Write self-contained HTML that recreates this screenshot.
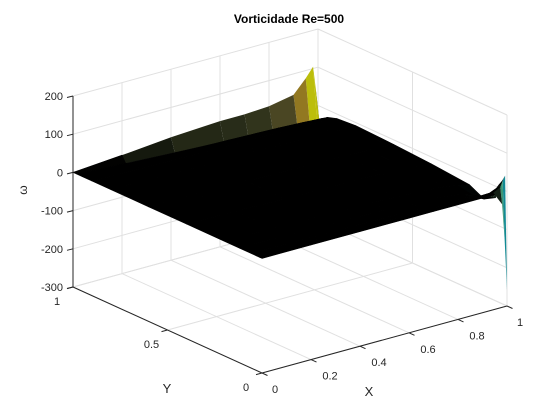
<!DOCTYPE html>
<html><head><meta charset="utf-8"><style>
html,body{margin:0;padding:0;background:#fff;}
svg{display:block;font-family:"Liberation Sans",Arial,sans-serif;}
</style></head><body>
<svg id="chart" width="560" height="420" viewBox="0 0 560 420" xmlns="http://www.w3.org/2000/svg">
<rect x="0" y="0" width="560" height="420" fill="#fff"/>
<g id="grid"></g>
<g id="surf"></g>
<g id="axes"></g>
<text x="289" y="23" text-anchor="middle" font-size="12" font-weight="bold" fill="#000">Vorticidade Re=500</text>
<text x="369" y="396" text-anchor="middle" font-size="13" fill="#262626">X</text>
<text x="167" y="393" text-anchor="middle" font-size="13" fill="#262626">Y</text>
<text x="0" y="0" text-anchor="middle" font-size="12" fill="#262626" transform="translate(27,190) rotate(-90)">ω</text>
</svg>
<script>
const xTicks = [0, 0.2, 0.4, 0.6, 0.8, 1];
const xTickLabels = ["0", "0.2", "0.4", "0.6", "0.8", "1"];
const yTicks = [0, 0.5, 1];
const yTickLabels = ["0", "0.5", "1"];
const zTicks = [-300, -200, -100, 0, 100, 200];
const zTickLabels = ["-300", "-200", "-100", "0", "100", "200"];
const xNodes = [0, 0.2, 0.4, 0.6, 0.7, 0.8, 0.9, 0.95, 0.98, 0.99, 1];
const yNodes = [0, 0.01, 0.03, 0.06, 0.12, 0.2, 0.4, 0.6, 0.8, 0.9, 0.95, 0.98, 1];
const omega = [
 [0,0,0,0,0,0,0,0,-30,-120,-259],
 [0,0,0,0,0,0,0,2,12,28,39],
 [0,0,-1,-1,-2,-3,-4,-3,5,12,18],
 [0,-1,-2,-3,-4,-6,-10,-18,-25,-28,-30],
 [0,-1,-3,-5,-7,-10,-18,-28,-38,-44,-47],
 [0,-2,-4,-6,-8,-11,-15,-20,-23,-25,-27],
 [0,-2,-4,-6,-7,-9,-12,-15,-17,-18,-18],
 [0,-2,-3,-5,-6,-7,-9,-10,-11,-12,-12],
 [0,-2,-3,-4,-5,-6,-7,-8,-8,-8,-8],
 [0,-2,-4,-5,-6,-7,-9,-10,-11,-12,-12],
 [0,-3,-6,-9,-11,-13,-16,-18,-19,-20,-20],
 [0,-7,-14,-20,-24,-27,-31,-32,-33,-34,-34],
 [0,10,22,29,29,33,45,80,105,50,-37]
];
const NS = "http://www.w3.org/2000/svg";
const ZMIN = -300, ZMAX = 200;
function proj(x, y, z) {
  const px = 262 + x * 245 - y * 189;
  const py = 373 - x * 67 - y * 86 - (z - ZMIN) * 0.382;
  return [px, py];
}
function mk(tag, attrs, parent) {
  const e = document.createElementNS(NS, tag);
  for (const k in attrs) e.setAttribute(k, attrs[k]);
  parent.appendChild(e);
  return e;
}
function line(p, q, stroke, w, parent) {
  return mk("line", {x1: p[0], y1: p[1], x2: q[0], y2: q[1], stroke: stroke, "stroke-width": w}, parent);
}
const grid = document.getElementById("grid");
const gc = "#e0e0e0";
xTicks.forEach(x => {
  const l = line(proj(x, 1, ZMIN), proj(x, 1, ZMAX), gc, 1, grid);
  
  
});
zTicks.forEach(z => {
  const l = line(proj(0, 1, z), proj(1, 1, z), gc, 1, grid);
  
  
  const l2 = line(proj(1, 1, z), proj(1, 0, z), gc, 1, grid);
  
  
});
yTicks.forEach(y => {
  const l = line(proj(1, y, ZMIN), proj(1, y, ZMAX), gc, 1, grid);
  
  
  const l2 = line(proj(0, y, ZMIN), proj(1, y, ZMIN), gc, 1, grid);
  
  
});
xTicks.forEach(x => {
  const l = line(proj(x, 0, ZMIN), proj(x, 1, ZMIN), gc, 1, grid);
  
  
});
const stops = [[0,[53,42,135]],[0.15,[3,99,225]],[0.3,[20,133,212]],[0.45,[6,167,198]],[0.6,[56,185,158]],[0.75,[146,191,115]],[0.87,[217,186,86]],[0.95,[252,206,46]],[1,[249,251,14]]];
const CMIN = -259, CMAX = 105;
function parula(v) {
  let t = (v - CMIN) / (CMAX - CMIN);
  t = Math.max(0, Math.min(1, t));
  for (let i = 1; i < stops.length; i++) {
    if (t <= stops[i][0]) {
      const a = stops[i-1], b = stops[i];
      const f = (t - a[0]) / (b[0] - a[0]);
      return a[1].map((c, k) => Math.round(c + (b[1][k] - c) * f));
    }
  }
  return stops[stops.length-1][1];
}
const surf = document.getElementById("surf");
const quads = [];
for (let j = 0; j < yNodes.length - 1; j++) {
  for (let i = 0; i < xNodes.length - 1; i++) {
    const pts = [[i,j],[i+1,j],[i+1,j+1],[i,j+1]];
    const zs = pts.map(p => omega[p[1]][p[0]]);
    const xc = (xNodes[i] + xNodes[i+1]) / 2, yc = (yNodes[j] + yNodes[j+1]) / 2;
    quads.push({pts, zs, depth: 67 * xc + 86 * yc});
  }
}
quads.sort((a, b) => b.depth - a.depth);
quads.forEach(q => {
  const sp = q.pts.map(p => proj(xNodes[p[0]], yNodes[p[1]], omega[p[1]][p[0]]));
  const zr = Math.max(...q.zs) - Math.min(...q.zs);
  const mean = q.zs.reduce((a, b) => a + b, 0) / 4;
  const blend = Math.max(0, Math.min(1, (zr - 15) / 130)) * 0.8;
  const cv = mean > 0 ? Math.max(...q.zs) : mean;
  const c = parula(cv).map(v => Math.round(v * blend));
  const fill = "rgb(" + c.join(",") + ")";
  const poly = mk("polygon", {points: sp.map(p => p[0].toFixed(2) + "," + p[1].toFixed(2)).join(" "), fill: fill, stroke: blend > 0.05 ? "none" : "#000", "stroke-width": 0.6, "stroke-linejoin": "round"}, surf);
  
  
});
const axes = document.getElementById("axes");
const ac = "#262626";
const zAxis = line(proj(0, 1, ZMIN), proj(0, 1, ZMAX), ac, 1, axes);


const yAxis = line(proj(0, 0, ZMIN), proj(0, 1, ZMIN), ac, 1, axes);


const xAxis = line(proj(0, 0, ZMIN), proj(1, 0, ZMIN), ac, 1, axes);


zTicks.forEach((z, k) => {
  const p = proj(0, 1, z);
  const t = line(p, [p[0] - 6, p[1] + 1.5], ac, 1, axes);
  
  
  const tx = mk("text", {x: p[0] - 10, y: p[1] + 4, "text-anchor": "end", "font-size": 11, fill: ac}, axes);
  tx.textContent = zTickLabels[k];
  
  
});
yTicks.forEach((y, k) => {
  const p = proj(0, y, ZMIN);
  const t = line(p, [p[0] - 6, p[1] + 1.6], ac, 1, axes);
  
  
  const tx = mk("text", {x: p[0] - 16, y: p[1] + 18, "text-anchor": "middle", "font-size": 11, fill: ac}, axes);
  tx.textContent = yTickLabels[k];
  
  
});
xTicks.forEach((x, k) => {
  const p = proj(x, 0, ZMIN);
  const t = line(p, [p[0] + 5.5, p[1] + 2.5], ac, 1, axes);
  
  
  const tx = mk("text", {x: p[0] + (k === 0 || k === xTicks.length - 1 ? 13 : 19), y: p[1] + 20, "text-anchor": "middle", "font-size": 11, fill: ac}, axes);
  tx.textContent = xTickLabels[k];
  
  
});
</script>
</body></html>
